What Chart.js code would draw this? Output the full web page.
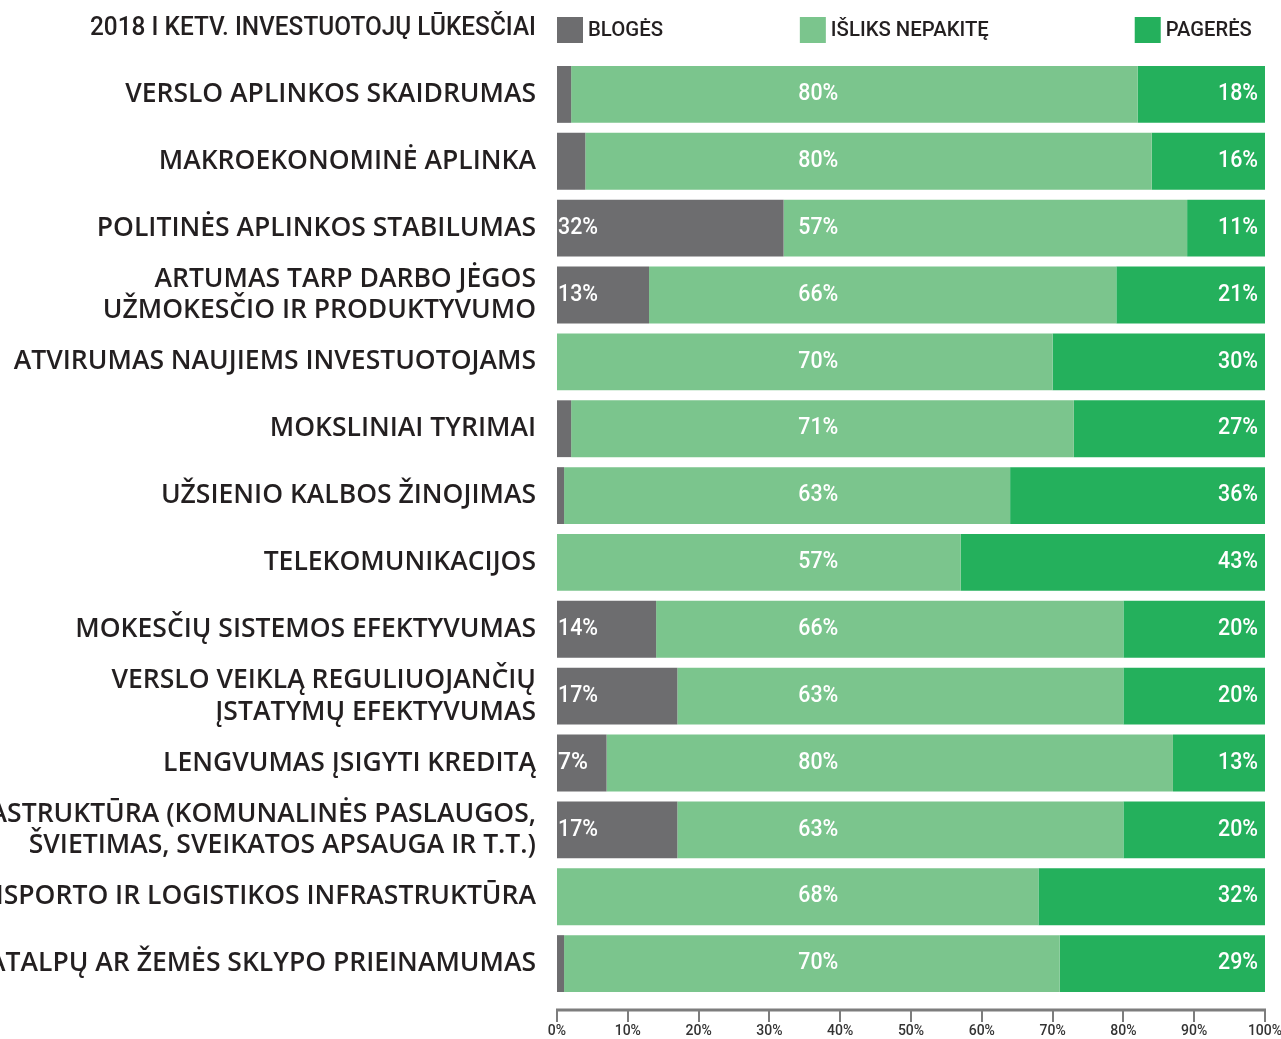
<!DOCTYPE html>
<html>
<head>
<meta charset="utf-8">
<script src="https://cdn.jsdelivr.net/npm/chart.js@4.4.1/dist/chart.umd.min.js"></script>
<style>
  html, body { margin: 0; padding: 0; background: #fff; }
  #wrap { width: 1281px; height: 1039px; }
</style>
</head>
<body>
<div id="wrap"><canvas id="chart" width="1281" height="1039"></canvas></div>
<script>
var categories = [
    'VERSLO APLINKOS SKAIDRUMAS',
    'MAKROEKONOMINĖ APLINKA',
    'POLITINĖS APLINKOS STABILUMAS',
    ['ARTUMAS TARP DARBO JĖGOS', 'UŽMOKESČIO IR PRODUKTYVUMO'],
    'ATVIRUMAS NAUJIEMS INVESTUOTOJAMS',
    'MOKSLINIAI TYRIMAI',
    'UŽSIENIO KALBOS ŽINOJIMAS',
    'TELEKOMUNIKACIJOS',
    'MOKESČIŲ SISTEMOS EFEKTYVUMAS',
    ['VERSLO VEIKLĄ REGULIUOJANČIŲ', 'ĮSTATYMŲ EFEKTYVUMAS'],
    'LENGVUMAS ĮSIGYTI KREDITĄ',
    ['INFRASTRUKTŪRA (KOMUNALINĖS PASLAUGOS,', 'ŠVIETIMAS, SVEIKATOS APSAUGA IR T.T.)'],
    'TRANSPORTO IR LOGISTIKOS INFRASTRUKTŪRA',
    'PATALPŲ AR ŽEMĖS SKLYPO PRIEINAMUMAS'
];

var seriesNames = ['BLOGĖS', 'IŠLIKS NEPAKITĘ', 'PAGERĖS'];

var worse     = [2, 4, 32, 13, 0, 2, 1, 0, 14, 17, 7, 17, 0, 1];
var unchanged = [80, 80, 57, 66, 70, 71, 63, 57, 66, 63, 80, 63, 68, 70];
var better    = [18, 16, 11, 21, 30, 27, 36, 43, 20, 20, 13, 20, 32, 29];

var xTicks = [0, 10, 20, 30, 40, 50, 60, 70, 80, 90, 100];

var chartTitle = '2018 I KETV. INVESTUOTOJŲ LŪKESČIAI';

var colors = ['#6d6d6f', '#7bc58d', '#24b05c'];
var dinFont = 'Roboto, "DejaVu Sans", sans-serif';

// header: title + legend boxes placed along the x scale
var headerPlugin = {
    id: 'header',
    afterDraw: function(chart) {
        var ctx = chart.ctx;
        var x = chart.scales.x;
        ctx.save();
        ctx.fillStyle = '#231f20';
        ctx.font = '500 25px ' + dinFont;
        ctx.textAlign = 'right';
        ctx.textBaseline = 'middle';
        ctx.fillText(chartTitle, 536, 29, 446);

        var legendAt = [0, 34.3, 81.6];
        var textW = [75, 158, 86];
        chart.data.datasets.forEach(function(ds, i) {
            var px = x.getPixelForValue(legendAt[i]);
            ctx.fillStyle = ds.backgroundColor;
            ctx.fillRect(px, 17, 26, 26);
            ctx.fillStyle = '#231f20';
            ctx.font = '500 21px ' + dinFont;
            ctx.textAlign = 'left';
            ctx.fillText(ds.label, px + 31, 31, textW[i]);
        });
        ctx.restore();
    }
};

// value labels inside the segments
var valuePlugin = {
    id: 'values',
    afterDatasetsDraw: function(chart) {
        var ctx = chart.ctx;
        var x = chart.scales.x;
        ctx.save();
        ctx.fillStyle = '#ffffff';
        ctx.font = '500 23px ' + dinFont;
        ctx.textBaseline = 'middle';
        chart.data.datasets.forEach(function(ds, di) {
            var meta = chart.getDatasetMeta(di);
            meta.data.forEach(function(bar, i) {
                var v = ds.data[i];
                if (!v) return;
                var txt = v + '%';
                if (di === 0) {
                    if (v < 5) return;
                    ctx.textAlign = 'left';
                    ctx.fillText(txt, bar.base + 1, bar.y, 40);
                } else if (di === 1) {
                    ctx.textAlign = 'center';
                    ctx.fillText(txt, x.getPixelForValue(36.9), bar.y, 40);
                } else {
                    ctx.textAlign = 'right';
                    ctx.fillText(txt, bar.x - 7, bar.y, 40);
                }
            });
        });
        ctx.restore();
    }
};

// bottom axis line with tick marks, set a little below the bars
var axisPlugin = {
    id: 'axisLine',
    afterDraw: function(chart) {
        var ctx = chart.ctx;
        var x = chart.scales.x;
        var y0 = chart.chartArea.bottom + 13;
        ctx.save();
        ctx.strokeStyle = '#7d7d7d';
        ctx.lineWidth = 3;
        ctx.beginPath();
        ctx.moveTo(x.getPixelForValue(0) - 1, y0);
        ctx.lineTo(x.getPixelForValue(100) + 1, y0);
        ctx.stroke();
        ctx.lineWidth = 2;
        x.ticks.forEach(function(t) {
            var px = Math.round(x.getPixelForValue(t.value));
            ctx.beginPath();
            ctx.moveTo(px, y0);
            ctx.lineTo(px, y0 + 12);
            ctx.stroke();
        });
        ctx.restore();
    }
};

var datasets = [worse, unchanged, better].map(function(arr, i) {
    return {
        label: seriesNames[i],
        data: arr,
        backgroundColor: colors[i],
        borderWidth: 0,
        barPercentage: 0.85,
        categoryPercentage: 1.0
    };
});

new Chart(document.getElementById('chart').getContext('2d'), {
    type: 'bar',
    data: { labels: categories, datasets: datasets },
    options: {
        indexAxis: 'y',
        responsive: false,
        animation: false,
        layout: { padding: { left: 0, right: 16, top: 61, bottom: 0 } },
        plugins: {
            legend: { display: false },
            title: { display: false },
            tooltip: { enabled: false }
        },
        scales: {
            x: {
                stacked: true,
                min: 0,
                max: 100,
                afterBuildTicks: function(s) {
                    s.ticks = xTicks.map(function(v) { return { value: v }; });
                },
                afterFit: function(s) {
                    s.height = 42;
                    s.paddingLeft = 0;
                    s.paddingRight = 0;
                },
                grid: { display: false, drawTicks: false },
                border: { display: false },
                ticks: {
                    padding: 26,
                    color: '#333333',
                    font: { family: dinFont, size: 14, weight: '500' },
                    maxRotation: 0,
                    callback: function(v) { return v + '%'; }
                }
            },
            y: {
                stacked: true,
                afterFit: function(s) { s.width = 557; },
                grid: { display: false, drawTicks: false },
                border: { display: false },
                ticks: {
                    padding: 21,
                    color: '#231f20',
                    autoSkip: false,
                    font: { family: '"Open Sans", sans-serif', size: 26.5, weight: '600', lineHeight: 1.2 }
                }
            }
        }
    },
    plugins: [headerPlugin, valuePlugin, axisPlugin]
});
</script>
</body>
</html>
